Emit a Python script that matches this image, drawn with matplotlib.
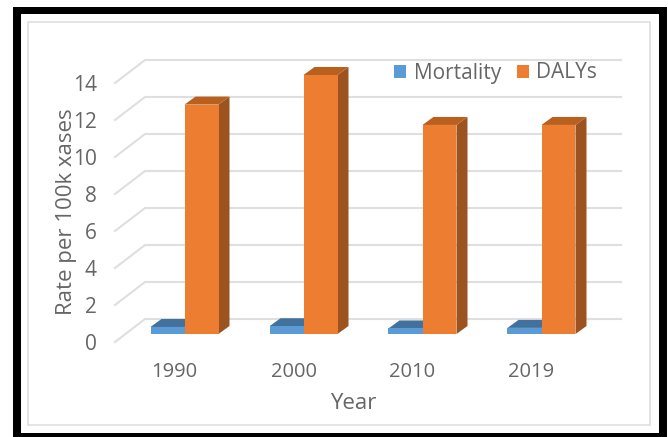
"""Mortality and DALY rates per year, drawn as pseudo-3D columns."""

import matplotlib

matplotlib.use("Agg")

import matplotlib.pyplot as plt
from matplotlib.patches import Patch, Polygon, Rectangle

YEARS = ["1990", "2000", "2010", "2019"]
MORTALITY = [0.38, 0.42, 0.3, 0.33]
DALYS = [12.4, 14.0, 11.3, 11.3]
Y_TICKS = [0, 2, 4, 6, 8, 10, 12, 14]

WIDTH, HEIGHT = 668, 437
AX_LEFT, AX_RIGHT, AX_BOTTOM, AX_TOP = 115, 591, 342, 83
GRAY_TEXT = "#666666"
GRID = "#dfdfdf"
BLUE = ("#5b9bd5", "#41719c", "#3d6b94")
ORANGE = ("#ed7d31", "#b9601f", "#9c5320")

plt.rcParams["font.family"] = ["Open Sans", "DejaVu Sans"]


def _frame_rect(fig, x0, y0, x1, y1, **kwargs):
    # pixel box measured from the top left of the figure
    rect = Rectangle(
        (x0 / WIDTH, 1 - y1 / HEIGHT),
        (x1 - x0) / WIDTH,
        (y1 - y0) / HEIGHT,
        transform=fig.transFigure,
        **kwargs,
    )
    fig.add_artist(rect)


def _draw_column(ax, left, value, width, depth, lift, colors, zorder):
    front, top, side = colors
    dx, dy = depth
    lift_x, lift_y = lift
    x0 = left + lift_x
    x1 = x0 + width
    y0 = lift_y
    y1 = lift_y + value
    faces = [
        ([(x1, y0), (x1 + dx, y0 + dy), (x1 + dx, y1 + dy), (x1, y1)], side),
        ([(x0, y1), (x1, y1), (x1 + dx, y1 + dy), (x0 + dx, y1 + dy)], top),
        ([(x0, y0), (x1, y0), (x1, y1), (x0, y1)], front),
    ]
    for points, color in faces:
        ax.add_patch(
            Polygon(points, closed=True, facecolor=color, edgecolor="none",
                    zorder=zorder, clip_on=False)
        )


def main():
    fig = plt.figure(figsize=(WIDTH / 100, HEIGHT / 100), dpi=100)
    fig.patch.set_facecolor("white")

    _frame_rect(fig, 28, 22, 650, 425, facecolor="none", edgecolor=GRID, linewidth=1.2)
    _frame_rect(fig, 13, 7, 667, 14, facecolor="black", edgecolor="none")
    _frame_rect(fig, 13, 433, 667, 437, facecolor="black", edgecolor="none")
    _frame_rect(fig, 13, 7, 21, 437, facecolor="black", edgecolor="none")
    _frame_rect(fig, 659, 7, 667, 437, facecolor="black", edgecolor="none")

    ax = fig.add_axes([
        AX_LEFT / WIDTH,
        1 - AX_BOTTOM / HEIGHT,
        (AX_RIGHT - AX_LEFT) / WIDTH,
        (AX_BOTTOM - AX_TOP) / HEIGHT,
    ])
    ax.patch.set_visible(False)
    ax.set_xlim(-0.5, 3.5)
    ax.set_ylim(0, 14)

    # one data unit in pixels, used to turn the depth offsets into data units
    px_x = (AX_RIGHT - AX_LEFT) / 4
    px_y = (AX_BOTTOM - AX_TOP) / 14
    wall_dx, wall_dy = 30 / px_x, 23 / px_y
    bar_depth = (11 / px_x, 8 / px_y)
    bar_lift = (10 / px_x, 8 / px_y)
    bar_width = 34 / px_x

    x_right = 3.5 + wall_dx
    for tick in Y_TICKS:
        ax.plot(
            [-0.5, -0.5 + wall_dx, x_right],
            [tick, tick + wall_dy, tick + wall_dy],
            color=GRID, linewidth=1.5, clip_on=False, zorder=1,
        )

    for i in range(len(YEARS)):
        _draw_column(ax, i - bar_width, MORTALITY[i], bar_width, bar_depth,
                     bar_lift, BLUE, 3)
        _draw_column(ax, i, DALYS[i], bar_width, bar_depth, bar_lift, ORANGE, 4)

    ax.set_xticks(range(len(YEARS)), YEARS)
    ax.set_yticks(Y_TICKS)
    ax.tick_params(axis="x", length=0, pad=14.5, labelsize=14.5, labelcolor=GRAY_TEXT)
    ax.tick_params(axis="y", length=0, pad=13, labelsize=15, labelcolor=GRAY_TEXT)
    for spine in ax.spines.values():
        spine.set_visible(False)

    ax.set_xlabel("Year", fontsize=16, color=GRAY_TEXT)
    ax.set_ylabel("Rate per 100k xases", fontsize=16, color=GRAY_TEXT)
    ax.xaxis.set_label_coords(0.5, -0.195)
    ax.yaxis.set_label_coords(-0.08, 0.505)

    handles = [
        Patch(facecolor=BLUE[0], label="Mortality"),
        Patch(facecolor=ORANGE[0], label="DALYs"),
    ]
    ax.legend(
        handles=handles, ncol=2, frameon=False, fontsize=15, labelcolor=GRAY_TEXT,
        handlelength=0.6, handleheight=0.6, handletextpad=0.35, columnspacing=0.75,
        borderpad=0, borderaxespad=0, loc="center left",
        bbox_to_anchor=((394 - AX_LEFT) / (AX_RIGHT - AX_LEFT), (AX_BOTTOM - 73) / (AX_BOTTOM - AX_TOP)),
    )

    fig.savefig("out.png", dpi=100)
    plt.close(fig)


if __name__ == "__main__":
    main()
